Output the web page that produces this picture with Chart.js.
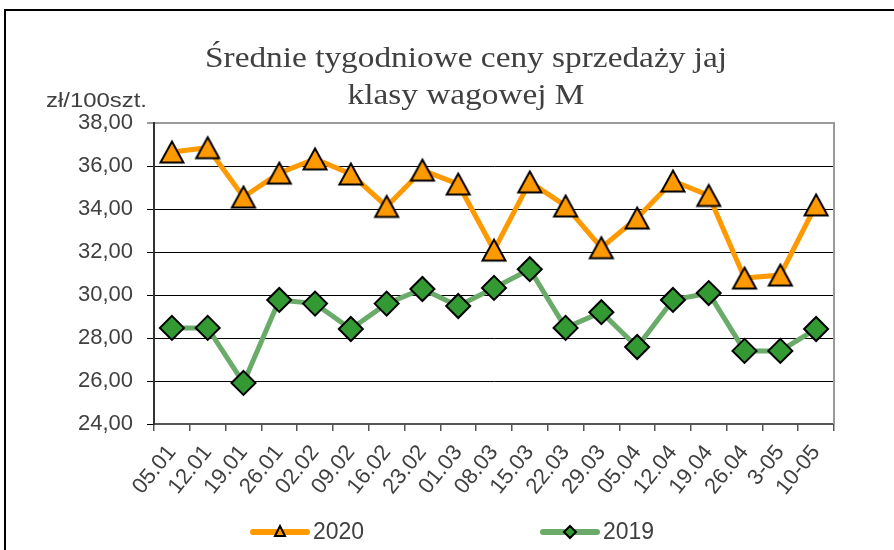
<!DOCTYPE html>
<html>
<head>
<meta charset="utf-8">
<script src="https://cdn.jsdelivr.net/npm/chart.js@4/dist/chart.umd.min.js"></script>
<style>
  html, body { margin: 0; padding: 0; background: #fff; overflow: hidden; }
  #frame { position: absolute; left: 4px; top: 9px; width: 1000px; height: 1000px; border: 2px solid #000; }
  #wrap { position: absolute; left: 0; top: 0; width: 894px; height: 550px; }
</style>
</head>
<body>
<div id="frame"></div>
<div id="wrap"><canvas id="c" width="894" height="550"></canvas></div>
<script>
const titleLines = ['Średnie tygodniowe ceny sprzedaży jaj', 'klasy wagowej M'];
const unitLabel = 'zł/100szt.';
const categories = ['05.01','12.01','19.01','26.01','02.02','09.02','16.02','23.02','01.03','08.03','15.03','22.03','29.03','05.04','12.04','19.04','26.04','3-05','10-05'];
const series2020 = [36.65, 36.85, 34.56, 35.67, 36.33, 35.63, 34.12, 35.81, 35.16, 32.09, 35.26, 34.14, 32.20, 33.58, 35.30, 34.63, 30.79, 30.93, 34.19];
const series2019 = [28.47, 28.47, 25.91, 29.77, 29.60, 28.42, 29.60, 30.28, 29.49, 30.33, 31.20, 28.47, 29.20, 27.58, 29.77, 30.09, 27.40, 27.40, 28.42];
const yMin = 24, yMax = 38, yStep = 2;

const ORANGE = '#FF9900', GREEN_LINE = '#6AAB6A', GREEN_FILL = '#339933';
const TXT = '#404040';

// triangle marker centred on its bounding box (like the spreadsheet marker)
const triImg = document.createElement('canvas');
triImg.width = 28; triImg.height = 26;
(function () {
  const t = triImg.getContext('2d');
  t.fillStyle = ORANGE; t.strokeStyle = '#000'; t.lineWidth = 2; t.lineJoin = 'miter';
  t.beginPath(); t.moveTo(14, 2.5); t.lineTo(25.5, 23.5); t.lineTo(2.5, 23.5); t.closePath();
  t.fill(); t.stroke();
})();

const decor = {
  id: 'decor',
  afterDraw(chart) {
    const ctx = chart.ctx, a = chart.chartArea;
    ctx.save();
    ctx.strokeStyle = '#9a9a9a'; ctx.lineWidth = 2;
    ctx.beginPath(); ctx.moveTo(a.right, a.top - 1); ctx.lineTo(a.right, a.bottom); ctx.stroke();
    ctx.restore();
    // title
    ctx.save();
    ctx.fillStyle = TXT;
    ctx.font = '30px "Liberation Serif"';
    const w = ctx.measureText(titleLines[0]).width;
    const sx = 522 / w;
    ctx.translate(466, 0); ctx.scale(sx, 1);
    ctx.textAlign = 'center'; ctx.textBaseline = 'alphabetic';
    ctx.fillText(titleLines[0], 0, 67);
    ctx.fillText(titleLines[1], 0, 104);
    ctx.restore();
    // unit
    ctx.save();
    ctx.fillStyle = TXT; ctx.font = '20px "Liberation Sans"';
    const uw = ctx.measureText(unitLabel).width;
    ctx.translate(147, 0); ctx.scale(101 / uw, 1);
    ctx.textAlign = 'right'; ctx.textBaseline = 'alphabetic';
    ctx.fillText(unitLabel, 0, 107);
    ctx.restore();
    // legend
    const ly = 532;
    chart.data.datasets.forEach((d, i) => {
      const x0 = i === 0 ? 253 : 543;
      ctx.save();
      ctx.strokeStyle = d.borderColor; ctx.lineWidth = 6; ctx.lineCap = 'round';
      ctx.beginPath(); ctx.moveTo(x0, ly); ctx.lineTo(x0 + 54, ly); ctx.stroke();
      const mx = x0 + 27;
      ctx.fillStyle = i === 0 ? ORANGE : GREEN_FILL; ctx.strokeStyle = '#000'; ctx.lineWidth = 2; ctx.lineCap = 'butt';
      ctx.beginPath();
      if (i === 0) {
        ctx.moveTo(mx, ly - 6); ctx.lineTo(mx + 5, ly + 4); ctx.lineTo(mx - 5, ly + 4); ctx.closePath();
      } else {
        ctx.moveTo(mx, ly - 6); ctx.lineTo(mx + 6, ly); ctx.lineTo(mx, ly + 6); ctx.lineTo(mx - 6, ly); ctx.closePath();
      }
      ctx.fill(); ctx.stroke();
      ctx.fillStyle = TXT; ctx.font = '23px "Liberation Sans"';
      ctx.textAlign = 'left'; ctx.textBaseline = 'middle';
      ctx.fillText(d.label, x0 + 60, ly + 1);
      ctx.restore();
    });
  }
};

new Chart(document.getElementById('c'), {
  type: 'line',
  data: {
    labels: categories,
    datasets: [
      {
        label: '2020', data: series2020,
        borderColor: ORANGE, borderWidth: 5, backgroundColor: ORANGE,
        pointStyle: triImg, pointRadius: 13, pointHoverRadius: 13,
        pointBackgroundColor: ORANGE, pointBorderColor: '#000', pointBorderWidth: 2,
        tension: 0, clip: false
      },
      {
        label: '2019', data: series2019,
        borderColor: GREEN_LINE, borderWidth: 5, backgroundColor: GREEN_FILL,
        pointStyle: 'rectRot', pointRadius: 12, pointHoverRadius: 12,
        pointBackgroundColor: GREEN_FILL, pointBorderColor: '#000', pointBorderWidth: 2,
        tension: 0, clip: false
      }
    ]
  },
  options: {
    responsive: false, animation: false,
    layout: { padding: { top: 123, right: 60, bottom: 0, left: 0 } },
    plugins: { legend: { display: false }, title: { display: false }, tooltip: { enabled: false } },
    scales: {
      x: {
        offset: true,
        grid: { display: true, drawOnChartArea: false, drawTicks: true, tickLength: 7, offset: true, color: '#555', lineWidth: 1.5 },
        border: { display: true, color: '#555', width: 2 },
        ticks: { color: TXT, font: { family: 'Liberation Sans', size: 22 }, minRotation: 51, maxRotation: 51, padding: 9, autoSkip: false },
        afterFit(s) { s.height = 126; }
      },
      y: {
        min: yMin, max: yMax,
        grid: {
          color: (c) => (c.tick && c.tick.value === yMax) ? '#9a9a9a' : '#000',
          lineWidth: (c) => (c.tick && c.tick.value === yMax) ? 2 : 1,
          tickLength: 7, drawTicks: true
        },
        border: { display: true, color: '#333', width: 2 },
        ticks: {
          stepSize: yStep, color: TXT, padding: 14,
          font: { family: 'Liberation Sans', size: 22 },
          callback: (v) => v.toFixed(2).replace('.', ',')
        },
        afterFit(s) { s.width = 154; }
      }
    }
  },
  plugins: [decor]
});
</script>
</body>
</html>
